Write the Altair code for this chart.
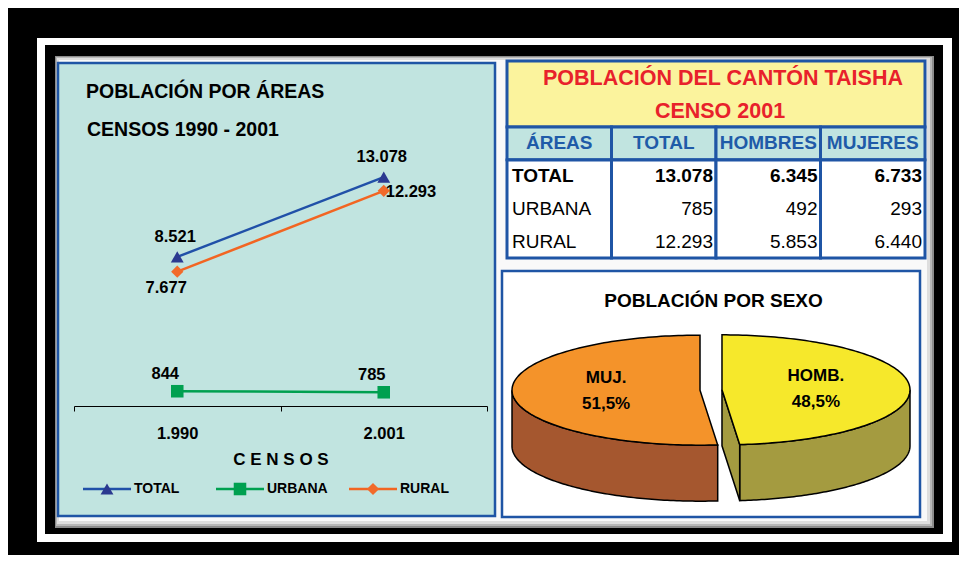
import altair as alt
import numpy as np
import pandas as pd

# ---------------- data ----------------
years = ["1.990", "2.001"]
series = ["TOTAL", "URBANA", "RURAL"]
total_vals = [8521, 13078]
urbana_vals = [844, 785]
rural_vals = [7677, 12293]

table_headers = ["ÁREAS", "TOTAL", "HOMBRES", "MUJERES"]
table_areas = ["TOTAL", "URBANA", "RURAL"]
table_total = [13078, 785, 12293]
table_hombres = [6345, 492, 5853]
table_mujeres = [6733, 293, 6440]

pie_names = ["HOMB.", "MUJ."]
pie_pct = [48.5, 51.5]

line_title_1 = "POBLACIÓN POR ÁREAS"
line_title_2 = "CENSOS 1990 - 2001"
axis_title = "C E N S O S"
table_title_1 = "POBLACIÓN DEL CANTÓN TAISHA"
table_title_2 = "CENSO 2001"
pie_title = "POBLACIÓN POR SEXO"

# ---------------- style / layout ----------------
FONT = "Liberation Sans"
O = 8  # page margin: image coords -> chart coords
W, H = 951, 547
BLUE = "#1F55A5"
TEAL = "#C1E4E0"
YELLOW = "#FBF39D"
RED = "#E8212B"
HDR_BLUE = "#1F5BA8"
LINE_COLORS = ["#2050A8", "#00A050", "#F26522"]
MARKER_COLORS = ["#2B3990", "#00A050", "#F26A2A"]
SHAPES = ["triangle-up", "square", "diamond"]
SIZES = [165, 150, 115]


def fmt(v):
    return f"{v:,}".replace(",", ".")


one = pd.DataFrame({"k": [0]})


def box(x0, y0, x1, y1, **kw):
    return alt.Chart(one).mark_rect(**kw).encode(
        x=alt.value(x0 - O), x2=alt.value(x1 - O),
        y=alt.value(y0 - O), y2=alt.value(y1 - O))


def label(txt, x, y, **kw):
    base = dict(font=FONT, fontWeight="bold", color="black", baseline="middle")
    base.update(kw)
    return alt.Chart(one).mark_text(text=txt, **base).encode(
        x=alt.value(x - O), y=alt.value(y - O))


# ---------------- decoration ----------------
decor = [
    box(37, 38, 952, 542, fill="white"),
    box(45, 45, 943, 534, fill="black"),
    box(55, 56, 934, 528, fill="#8c8c8c"),
    box(56, 57, 932, 526, fill="#b8b8b8"),
    box(57, 58, 930, 524, fill="#dedede"),
    box(59, 60, 927, 521, fill="#f9f9f9"),
    box(58, 63, 495, 516, fill=TEAL, stroke=BLUE, strokeWidth=2.5),
    box(502, 271, 920, 517, fill="white", stroke=BLUE, strokeWidth=2.5),
    box(507, 61, 925, 127, fill=YELLOW, stroke=BLUE, strokeWidth=3),
    label(line_title_1, 86, 92, fontSize=19.5, align="left"),
    label(line_title_2, 87, 130, fontSize=19.5, align="left"),
    label(table_title_1, 723, 79, fontSize=21.5, align="center", color=RED),
    label(table_title_2, 720, 111.5, fontSize=21.5, align="center", color=RED),
    label(pie_title, 713.5, 300.5, fontSize=19, align="center"),
]

# ---------------- line chart ----------------
rows = []
for s, vals in zip(series, [total_vals, urbana_vals, rural_vals]):
    for yr, v in zip(years, vals):
        rows.append({"year": yr, "series": s, "value": v, "label": fmt(v)})
df_line = pd.DataFrame(rows)

x_axis = alt.Axis(
    orient="bottom", offset=(406 - O) - H, title=axis_title, zindex=1,
    titleFont=FONT, titleFontSize=17, titleFontWeight="bold", titleColor="black",
    titlePadding=10, labelFont=FONT, labelFontSize=16.5, labelFontWeight="bold",
    labelColor="black", labelPadding=14, labelAngle=0, tickBand="extent",
    tickSize=5, tickColor="black", tickWidth=1, domainColor="black",
    domainWidth=1, grid=False)
xs = alt.Scale(type="band", domain=years, range=[74 - O, 487 - O],
               paddingInner=0, paddingOuter=0)
ys = alt.Scale(domain=[0, 16000], range=[406 - O, 126 - O], nice=False)
line_color = alt.Color("series:N", scale=alt.Scale(domain=series, range=LINE_COLORS), legend=None)
marker_fill = alt.Fill("series:N", scale=alt.Scale(domain=series, range=MARKER_COLORS), legend=None)
marker_shape = alt.Shape("series:N", scale=alt.Scale(domain=series, range=SHAPES), legend=None)
marker_size = alt.Size("series:N", scale=alt.Scale(domain=series, range=SIZES), legend=None)

base = alt.Chart(df_line).encode(
    x=alt.X("year:N", scale=xs, axis=x_axis, sort=years),
    y=alt.Y("value:Q", scale=ys, axis=None))
txt = dict(font=FONT, fontSize=16.5, fontWeight="bold", color="black", baseline="middle")

line_layer = alt.layer(
    base.mark_line(strokeWidth=2.5).encode(color=line_color),
    base.mark_point(filled=True, opacity=1).encode(fill=marker_fill, shape=marker_shape, size=marker_size),
    base.transform_filter(alt.datum.series == "TOTAL").mark_text(dx=-2, dy=-20, **txt).encode(text="label:N"),
    base.transform_filter(alt.datum.series == "URBANA").mark_text(dx=-12, dy=-17, **txt).encode(text="label:N"),
    base.transform_filter((alt.datum.series == "RURAL") & (alt.datum.year == years[0]))
        .mark_text(dx=-11, dy=16, **txt).encode(text="label:N"),
    base.transform_filter((alt.datum.series == "RURAL") & (alt.datum.year == years[1]))
        .mark_text(dx=2, dy=1, align="left", **txt).encode(text="label:N"),
)

# legend built from the series list
df_leg = pd.DataFrame({"series": series})
leg_x = alt.X("series:N", scale=alt.Scale(type="point", domain=series, range=[107 - O, 373 - O], padding=0),
              axis=None)
leg_y = alt.value(489 - O)
leg = alt.Chart(df_leg)
legend_layer = alt.layer(
    leg.mark_rule(strokeWidth=2.5, xOffset=-24, x2Offset=24).encode(
        x=leg_x, x2=alt.X2("series:N"), y=leg_y, color=line_color),
    leg.mark_point(filled=True, opacity=1).encode(
        x=leg_x, y=leg_y, fill=marker_fill, shape=marker_shape, size=marker_size),
    leg.mark_text(align="left", dx=27, baseline="middle", font=FONT, fontSize=14,
                  fontWeight="bold", color="black").encode(x=leg_x, y=leg_y, text="series:N"),
)

# ---------------- table ----------------
col_scale = alt.Scale(type="band", domain=table_headers, range=[507 - O, 925 - O],
                      paddingInner=0, paddingOuter=0)
row_scale = alt.Scale(type="band", domain=["hdr"] + table_areas, range=[127 - O, 258 - O],
                      paddingInner=0, paddingOuter=0)
df_hdr = pd.DataFrame({"col": table_headers, "row": "hdr"})
cells = []
for i, area in enumerate(table_areas):
    cells.append({"col": table_headers[0], "row": area, "txt": area})
    for c, vals in zip(table_headers[1:], [table_total, table_hombres, table_mujeres]):
        cells.append({"col": c, "row": area, "txt": fmt(vals[i])})
df_cells = pd.DataFrame(cells)

cx_mid = alt.X("col:N", scale=col_scale, axis=None)
ry = alt.Y("row:N", scale=row_scale, axis=None)
cell_txt = dict(font=FONT, fontSize=19, color="black", baseline="middle")
first = alt.datum.col == table_headers[0]
x_left = alt.X("col:N", scale=col_scale, axis=None, bandPosition=0)
x_right = alt.X("col:N", scale=col_scale, axis=None, bandPosition=1)
table_layer = alt.layer(
    alt.Chart(df_hdr).mark_rect(fill=TEAL, stroke=BLUE, strokeWidth=3).encode(x=cx_mid, y=ry),
    alt.Chart(df_hdr).mark_rect(fill="white", stroke=BLUE, strokeWidth=3).encode(
        x=cx_mid, y=alt.value(160 - O), y2=alt.value(258 - O)),
    alt.Chart(df_hdr).mark_text(font=FONT, fontSize=19, fontWeight="bold", color=HDR_BLUE,
                                baseline="middle").encode(x=cx_mid, y=ry, text="col:N"),
    alt.Chart(df_cells).transform_filter(first).transform_filter(alt.datum.row != "TOTAL")
        .mark_text(align="left", dx=5, **cell_txt).encode(x=x_left, y=ry, text="txt:N"),
    alt.Chart(df_cells).transform_filter(~first).transform_filter(alt.datum.row != "TOTAL")
        .mark_text(align="right", dx=-3, **cell_txt).encode(x=x_right, y=ry, text="txt:N"),
    alt.Chart(df_cells).transform_filter(first).transform_filter(alt.datum.row == "TOTAL")
        .mark_text(align="left", dx=5, fontWeight="bold", **cell_txt).encode(x=x_left, y=ry, text="txt:N"),
    alt.Chart(df_cells).transform_filter(~first).transform_filter(alt.datum.row == "TOTAL")
        .mark_text(align="right", dx=-3, fontWeight="bold", **cell_txt).encode(x=x_right, y=ry, text="txt:N"),
)

# ---------------- 3D pie (tilted, exploded) ----------------
PCX, PCY = 711 - O, 390 - O
PA, PB, DEPTH, EXPLODE = 188.0, 55.0, 56.0, 11.0
TOP_COLORS = {"HOMB.": "#F6E82B", "MUJ.": "#F4932A"}
SIDE_COLORS = {"HOMB.": "#A49B40", "MUJ.": "#A5572F"}


def feat(ring, kind):
    return {"type": "Feature", "properties": {"kind": kind},
            "geometry": {"type": "Polygon",
                         "coordinates": [[[float(p[0]), float(p[1])] for p in ring]]}}


sides, tops, labs = [], [], []
start = 0.0
for name, p in zip(pie_names, pie_pct):
    end = start + p / 100 * 360
    mid = np.radians((start + end) / 2)
    ccx = PCX + EXPLODE * np.sin(mid)
    ccy = PCY - EXPLODE * np.cos(mid) * PB / PA

    def pt(t, dz=0.0):
        r = np.radians(t)
        return [ccx + PA * np.sin(r), ccy - PB * np.cos(r) + dz]

    ts = np.linspace(start, end, 140)
    tops.append(feat([[ccx, ccy]] + [pt(t) for t in ts] + [[ccx, ccy]], name + " top"))
    lo, hi = max(start, 90.0), min(end, 270.0)
    if hi > lo:
        tr = np.linspace(lo, hi, 100)
        ring = [pt(t) for t in tr] + [pt(t, DEPTH) for t in tr[::-1]]
        ring.append(ring[0])
        sides.append(feat(ring, name + " side"))
    if np.sin(np.radians(end)) > 1e-6:
        sides.append(feat([[ccx, ccy], pt(end), pt(end, DEPTH), [ccx, ccy + DEPTH], [ccx, ccy]],
                          name + " side"))
    if np.sin(np.radians(start)) < -1e-6:
        sides.append(feat([[ccx, ccy], pt(start), pt(start, DEPTH), [ccx, ccy + DEPTH], [ccx, ccy]],
                          name + " side"))
    labs.append({"lon": float(ccx + 0.5 * PA * np.sin(mid)),
                 "lat": float(ccy - 0.5 * PB * np.cos(mid)),
                 "txt": name + "\n" + f"{p:.1f}".replace(".", ",") + "%"})
    start = end

kinds = [n + " top" for n in pie_names] + [n + " side" for n in pie_names]
kind_colors = [TOP_COLORS[n] for n in pie_names] + [SIDE_COLORS[n] for n in pie_names]
pie_color = alt.Color("properties.kind:N", scale=alt.Scale(domain=kinds, range=kind_colors), legend=None)
proj = dict(type="identity", scale=1, translate=[0, 0], reflectY=False)

pie_layer = alt.layer(
    alt.Chart(alt.Data(values=sides)).mark_geoshape(stroke="black", strokeWidth=1.5)
        .encode(color=pie_color).project(**proj),
    alt.Chart(alt.Data(values=tops)).mark_geoshape(stroke="black", strokeWidth=1.5)
        .encode(color=pie_color).project(**proj),
    alt.Chart(pd.DataFrame(labs)).mark_text(font=FONT, fontSize=17, fontWeight="bold", color="black",
                                             lineBreak="\n", lineHeight=26, baseline="middle", dy=-13)
        .encode(longitude="lon:Q", latitude="lat:Q", text="txt:N").project(**proj),
)

chart = alt.layer(*decor, line_layer, legend_layer, table_layer, pie_layer).resolve_scale(
    x="independent", y="independent", color="independent", fill="independent",
    shape="independent", size="independent"
).properties(
    width=W, height=H, padding=0, background="black",
    autosize=alt.AutoSizeParams(type="none")
).configure_view(strokeWidth=0)

chart.save("out.html", embed_options={"renderer": "svg", "actions": False})
